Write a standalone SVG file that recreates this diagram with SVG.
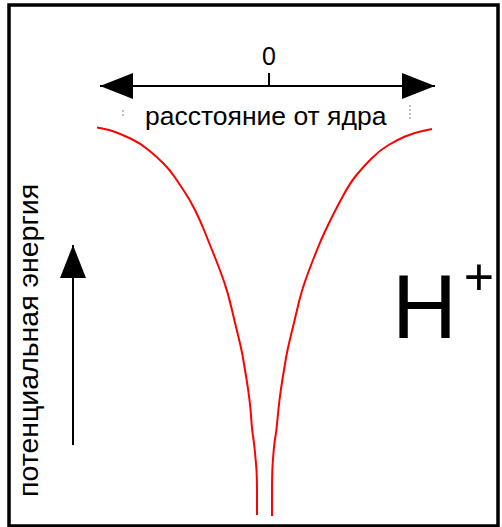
<svg xmlns="http://www.w3.org/2000/svg" width="502" height="527" viewBox="0 0 502 527">
<style>
.txt{font-family:"Liberation Sans",Arial,sans-serif;fill:#000}
.axis{stroke:#000;stroke-width:2;fill:none}
.curve{stroke:#ff0000;stroke-width:2;fill:none;stroke-linejoin:round;stroke-linecap:butt}
.mark{stroke:#aaa;stroke-width:1.5;stroke-dasharray:2 2}
</style>
<defs>
<marker id="head" viewBox="0 0 33 26" refX="33" refY="13" markerWidth="33" markerHeight="26" markerUnits="userSpaceOnUse" orient="auto-start-reverse">
<path d="M0,0 L33,13 L0,26 z" fill="#000"/>
</marker>
</defs>
<rect x="0" y="0" width="502" height="527" fill="#fff"/>
<rect id="frame" x="9" y="5" width="489" height="521" fill="none" stroke="#000" stroke-width="3.5"/>
<g id="connectors">
<line class="axis" x1="100" y1="86" x2="435" y2="86" marker-start="url(#head)" marker-end="url(#head)"/>
<line class="axis" x1="269" y1="73" x2="269" y2="86"/>
<line class="axis" x1="73" y1="445" x2="73" y2="245" marker-end="url(#head)"/>
</g>
<g id="zero"><text class="txt" x="269" y="65" font-size="25" text-anchor="middle">0</text></g>
<g id="distance-label">
<line class="mark" x1="123" y1="110" x2="123" y2="118"/>
<line class="mark" x1="410" y1="105" x2="410" y2="120"/>
<text class="txt" x="145" y="125" font-size="26.5">расстояние от ядра</text>
</g>
<g id="energy-label"><text class="txt" transform="translate(37.5,497) rotate(-90)" font-size="28.5">потенциальная энергия</text></g>
<g id="potential">
<path class="curve" d="M97,127.5 L103.5,128.75 Q110,130 116.5,132.5 Q123,135 131.5,139 Q140,143 148.5,150 Q157,157 163.5,163.5 Q170,170 175,177.5 Q180,185 185,192.5 Q190,200 195,210 Q200,220 204,230 Q208,240 210,245 Q212,250 216,260 Q220,270 224,281.5 Q228,293 231.5,308 Q235,323 238.35,336.5 Q241.7,350 243.35,360 Q245,370 246.65,380 Q248.3,390 249.5,400 Q250.7,410 251.35,420 Q252,430 253,436 Q254,442 254.75,450 Q255.5,458 256.25,466.5 Q257,475 257,495 L257,515"/>
<path class="curve" d="M432,129 L422.5,131 Q413,133 405,136.5 Q397,140 388.5,145 Q380,150 371.5,158.5 Q363,167 356.5,175 Q350,183 343.5,195 Q337,207 332.5,216 Q328,225 324.5,232.5 Q321,240 319,245 Q317,250 313,260 Q309,270 305,281.5 Q301,293 297.5,308 Q294,323 290.65,336.5 Q287.3,350 285.65,360 Q284,370 282.35,380 Q280.7,390 279.5,400 Q278.3,410 277.4,420 Q276.5,430 275.5,436 Q274.5,442 273.75,450 Q273,458 272.5,466.5 Q272,475 272,495.5 L272,516"/>
</g>
<g id="ion">
<text class="txt" x="424.5" y="338" font-size="90" text-anchor="middle">H</text>
<text class="txt" x="479" y="295" font-size="52" text-anchor="middle">+</text>
</g>
</svg>
